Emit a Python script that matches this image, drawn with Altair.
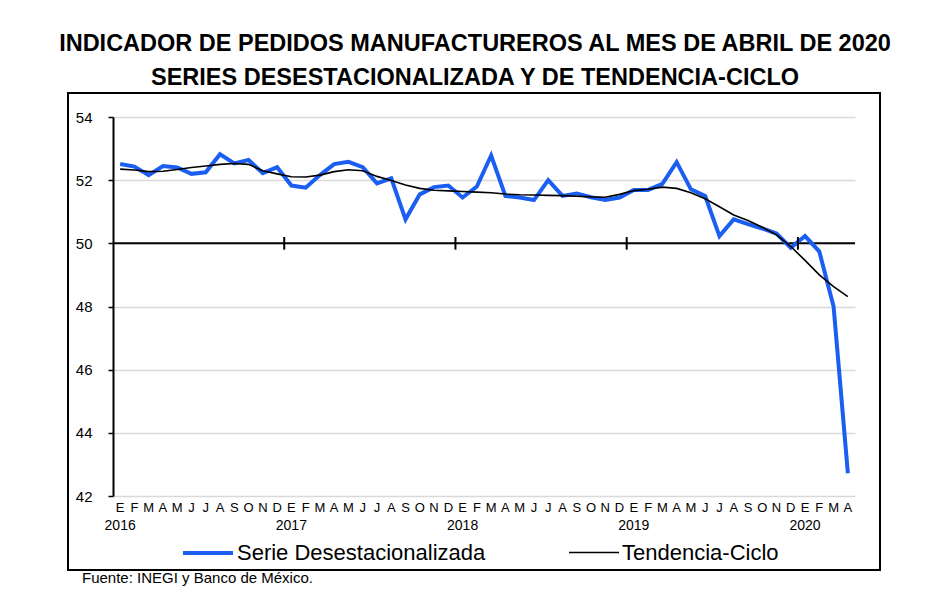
import altair as alt
import pandas as pd

months = ["E", "F", "M", "A", "M", "J", "J", "A", "S", "O", "N", "D"]
years = [2016, 2017, 2018, 2019, 2020]
series_names = ["Serie Desestacionalizada", "Tendencia-Ciclo"]

serie = [
    52.51, 52.43, 52.16, 52.45, 52.40, 52.20, 52.25, 52.82, 52.53, 52.64, 52.22, 52.41,
    51.83, 51.76, 52.16, 52.51, 52.58, 52.41, 51.90, 52.06, 50.76, 51.55, 51.78, 51.83,
    51.45, 51.80, 52.78, 51.50, 51.45, 51.37, 52.00, 51.50, 51.58, 51.46, 51.37, 51.45,
    51.69, 51.69, 51.88, 52.57, 51.71, 51.50, 50.23, 50.76, 50.61, 50.47, 50.31, 49.86,
    50.23, 49.74, 48.00, 42.72,
]
tendencia = [
    52.35, 52.32, 52.27, 52.28, 52.34, 52.40, 52.45, 52.50, 52.53, 52.50, 52.30, 52.20,
    52.11, 52.10, 52.16, 52.27, 52.33, 52.30, 52.12, 51.99, 51.85, 51.74, 51.68, 51.66,
    51.64, 51.62, 51.60, 51.56, 51.54, 51.53, 51.52, 51.51, 51.49, 51.47, 51.46, 51.55,
    51.67, 51.71, 51.78, 51.74, 51.60, 51.41, 51.16, 50.90, 50.72, 50.51, 50.27, 49.90,
    49.46, 49.00, 48.63, 48.31,
]
y_ticks = [42, 44, 46, 48, 50, 52, 54]

n = len(serie)
rows = []
for i in range(n):
    rows.append({"idx": i, "serie": series_names[0], "value": serie[i]})
    rows.append({"idx": i, "serie": series_names[1], "value": tendencia[i]})
df = pd.DataFrame(rows)

month_df = pd.DataFrame({"idx": list(range(n)), "m": [months[i % 12] for i in range(n)]})

FONT = "Liberation Sans"
BLUE = "#1b5ef2"

x_scale = alt.Scale(domain=[-0.5, n - 0.5], nice=False, zero=False)
y_scale = alt.Scale(domain=[42, 54], nice=False, zero=False)

lines = alt.Chart(df).mark_line(strokeJoin="miter").encode(
    x=alt.X("idx:Q", scale=x_scale, title=None, axis=None),
    y=alt.Y("value:Q", scale=y_scale, title=None,
            axis=alt.Axis(values=y_ticks, grid=True, gridColor="#d9d9d9", gridWidth=1.5,
                          domainColor="black", domainWidth=2, tickColor="black",
                          tickSize=5, tickWidth=1.5, labelFontSize=15, labelFont=FONT,
                          labelColor="black", labelPadding=16)),
    color=alt.Color("serie:N",
                    scale=alt.Scale(domain=series_names, range=[BLUE, "black"]),
                    legend=alt.Legend(orient="none", legendX=68, legendY=409,
                                      direction="horizontal", title=None,
                                      symbolType="stroke", symbolSize=2500,
                                      labelFontSize=22, labelFont=FONT,
                                      labelColor="black", columnPadding=79,
                                      labelOffset=2, padding=0, labelLimit=400)),
    strokeWidth=alt.StrokeWidth("serie:N",
                                scale=alt.Scale(domain=series_names, range=[4, 1.6]),
                                legend=None),
    order=alt.Order("order_key:Q"),
).transform_calculate(order_key="datum.serie == 'Tendencia-Ciclo' ? 1 : 0")

month_labels = alt.Chart(month_df).mark_text(fontSize=13, font=FONT, color="black",
                                             baseline="middle", align="center").encode(
    x=alt.X("idx:Q", scale=x_scale), y=alt.value(391), text="m:N"
)

zero_line = alt.Chart(pd.DataFrame({"v": [50]})).mark_rule(color="black", strokeWidth=2).encode(
    y=alt.Y("v:Q", scale=y_scale)
)

boundaries = pd.DataFrame({"b": [12 * k - 0.5 for k in range(1, len(years))],
                           "y1": [49.8] * (len(years) - 1), "y2": [50.2] * (len(years) - 1)})
year_ticks = alt.Chart(boundaries).mark_rule(color="black", strokeWidth=2).encode(
    x=alt.X("b:Q", scale=x_scale), y=alt.Y("y1:Q", scale=y_scale), y2="y2:Q"
)

year_df = pd.DataFrame({"pos": [12 * k for k in range(len(years))],
                        "label": [str(y) for y in years]})
year_labels = alt.Chart(year_df).mark_text(fontSize=14, font=FONT, color="black",
                                           baseline="middle", align="center").encode(
    x=alt.X("pos:Q", scale=x_scale), y=alt.value(409), text="label:N"
)

box = alt.Chart(pd.DataFrame({"a": [0]})).mark_rect(
    fillOpacity=0, stroke="black", strokeWidth=2
).encode(x=alt.value(-45), x2=alt.value(767), y=alt.value(-24), y2=alt.value(453))

source = alt.Chart(pd.DataFrame({"t": ["Fuente: INEGI y Banco de México."]})).mark_text(
    fontSize=15, font=FONT, color="black", align="left", baseline="middle"
).encode(x=alt.value(-31), y=alt.value(461), text="t:N")

chart = alt.layer(box, zero_line, lines, month_labels, year_ticks, year_labels, source).properties(
    width=742, height=379,
    autosize=alt.AutoSizeParams(type="none"),
    padding={"left": 105, "top": 109, "right": 87, "bottom": 106},
    title=alt.TitleParams(
        text=["INDICADOR DE PEDIDOS MANUFACTUREROS AL MES DE ABRIL DE 2020",
              "SERIES DESESTACIONALIZADA Y DE TENDENCIA-CICLO"],
        fontSize=23.5, font=FONT, fontWeight="bold", color="black",
        anchor="middle", dx=-9, lineHeight=34, offset=3),
).configure_view(stroke=None)

chart.save("out.html", embed_options={"renderer": "svg", "actions": False})
